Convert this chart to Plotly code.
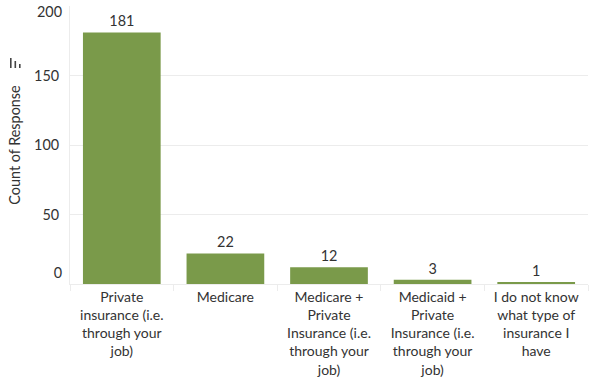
import plotly.graph_objects as go

categories = [
    "Private<br>insurance (i.e.<br>through your<br>job)",
    "Medicare",
    "Medicare +<br>Private<br>Insurance (i.e.<br>through your<br>job)",
    "Medicaid +<br>Private<br>Insurance (i.e.<br>through your<br>job)",
    "I do not know<br>what type of<br>insurance I<br>have",
]
counts = [181, 22, 12, 3, 1]
y_ticks = [0, 50, 100, 150, 200]
y_max = 200

font_family = "Lato, 'Open Sans', sans-serif"
text_color = "#333333"
bar_color = "#7a9a4a"
grid_color = "#ececec"
font_size = 14.4
tick_font = dict(family=font_family, size=font_size, color=text_color)
cat_font = dict(family=font_family, size=14, color=text_color)

fig = go.Figure(
    go.Bar(
        x=categories,
        y=counts,
        text=[str(c) for c in counts],
        textposition="outside",
        textfont=tick_font,
        marker=dict(color=bar_color, line=dict(width=0)),
        width=0.75,
        cliponaxis=False,
    )
)

fig.update_layout(
    width=601,
    height=377,
    margin=dict(l=70, r=13, t=6, b=93),
    paper_bgcolor="white",
    plot_bgcolor="white",
    showlegend=False,
    font=dict(family=font_family, size=font_size, color=text_color),
)

fig.update_xaxes(
    type="category",
    tickson="boundaries",
    ticks="outside",
    ticklen=6,
    tickcolor=grid_color,
    showline=True,
    linecolor=grid_color,
    showgrid=False,
    automargin=False,
    ticklabelstandoff=0,
    tickfont=cat_font,
    tickangle=0,
)

# main value axis: gridlines for every tick, centred labels for the inner ticks
inner_text = [str(v) if 0 < v < y_max else "" for v in y_ticks]
fig.update_layout(
    yaxis=dict(
        range=[0, y_max],
        tickvals=y_ticks,
        ticktext=inner_text,
        showgrid=True,
        gridcolor=grid_color,
        zeroline=False,
        showline=True,
        linecolor=grid_color,
        automargin=False,
        ticklabelstandoff=7,
        tickfont=tick_font,
        title=dict(text="Count of Response", font=tick_font, standoff=10),
    ),
    # end labels sit just inside the plot's vertical extent
    yaxis2=dict(
        overlaying="y",
        range=[0, y_max],
        tickvals=[y_ticks[0]],
        ticktext=[str(y_ticks[0])],
        ticklabelposition="outside top",
        ticklabelshift=-1,
        showgrid=False,
        zeroline=False,
        showline=False,
        automargin=False,
        ticklabelstandoff=7,
        tickfont=tick_font,
    ),
    yaxis3=dict(
        overlaying="y",
        range=[0, y_max],
        tickvals=[y_ticks[-1]],
        ticktext=[str(y_ticks[-1])],
        ticklabelposition="outside bottom",
        ticklabelshift=-4,
        showgrid=False,
        zeroline=False,
        showline=False,
        automargin=False,
        ticklabelstandoff=7,
        tickfont=tick_font,
    ),
)
fig.add_trace(go.Scatter(x=[categories[0]], y=[None], yaxis="y2", showlegend=False, hoverinfo="skip"))
fig.add_trace(go.Scatter(x=[categories[0]], y=[None], yaxis="y3", showlegend=False, hoverinfo="skip"))

# small sort indicator next to the axis title
plot_w, plot_h = 518, 278
for x0, y_top in [(10, 58), (14.5, 61), (19, 64)]:
    fig.add_shape(
        type="rect",
        xref="paper", yref="paper",
        x0=(x0 - 70) / plot_w, x1=(x0 + 1.6 - 70) / plot_w,
        y0=(284 - 68) / plot_h, y1=(284 - y_top) / plot_h,
        fillcolor="#444444", line=dict(width=0),
    )

fig.write_html("out.html")
